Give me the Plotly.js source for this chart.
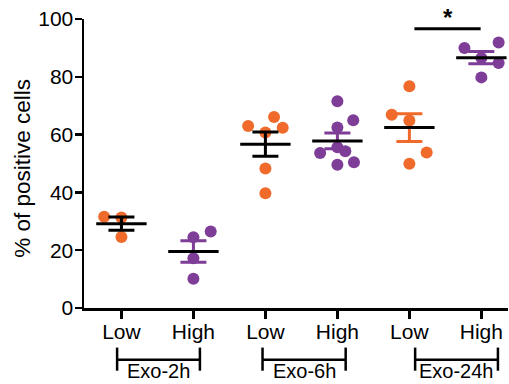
<!DOCTYPE html>
<html>
<head>
<meta charset="utf-8">
<script src="https://cdn.plot.ly/plotly-3.0.1.min.js"></script>
<style>html,body{margin:0;padding:0;background:#fff;}#chart{width:509px;height:384px;}</style>
</head>
<body>
<div id="chart"></div>
<script>
// ---- data ----
const groupNames = ['Exo-2h', 'Exo-6h', 'Exo-24h'];
const tickLabels = ['Low', 'High', 'Low', 'High', 'Low', 'High'];
const yTitle = '% of positive cells';
const low2h  = [31.6, 31.3, 24.6];
const high2h = [24.5, 26.5, 17.2, 10.1];
const low6h  = [63.0, 66.1, 62.4, 60.7, 48.3, 39.7];
const high6h = [71.5, 65.0, 62.5, 53.6, 55.6, 54.2, 49.6, 50.4];
const low24h = [76.7, 66.9, 64.9, 53.8, 49.9];
const high24h = [90.0, 91.9, 86.5, 84.8, 79.8];
const significance = '*';

// ---- presentation (positions / styles) ----
const series = [low2h, high2h, low6h, high6h, low24h, high24h];
const swarm = [
  [-0.24, 0, 0],
  [0, 0.24, 0, 0],
  [-0.24, 0.12, 0.24, 0, 0, 0],
  [0, 0.22, 0, -0.24, 0, 0.11, 0, 0.23],
  [0, -0.245, 0, 0.24, 0],
  [-0.235, 0.24, 0, 0.24, 0]
];
const ORANGE = '#EF6A2B', PURPLE = '#7E3D96';
const dotColors = [ORANGE, PURPLE, ORANGE, PURPLE, ORANGE, PURPLE];
const semColors = ['#000', PURPLE, '#000', PURPLE, ORANGE, PURPLE];
const FONT = '"Liberation Sans", Arial, Helvetica, sans-serif';

function mean(a){ return a.reduce((s,v)=>s+v,0)/a.length; }
function sem(a){ const m=mean(a); const v=a.reduce((s,x)=>s+(x-m)*(x-m),0)/(a.length-1); return Math.sqrt(v)/Math.sqrt(a.length); }

const traces = [];
series.forEach((vals, i) => {
  traces.push({
    type:'scatter', mode:'markers', cliponaxis:false, hoverinfo:'skip',
    x: vals.map((v,k)=>i+swarm[i][k]), y: vals,
    marker:{size:12, color:dotColors[i], line:{width:0}}
  });
});
series.forEach((vals, i) => {
  const m = mean(vals);
  traces.push({
    type:'scatter', mode:'markers', hoverinfo:'skip',
    x:[i], y:[m], marker:{size:1, opacity:0},
    error_y:{type:'data', array:[sem(vals)], visible:true, width:13, thickness:3, color:semColors[i]}
  });
  traces.push({
    type:'scatter', mode:'lines', hoverinfo:'skip',
    x:[i-0.35, i+0.35], y:[m, m], line:{color:'#000', width:3}
  });
});

const bracketSpan = [[-0.06, 1.09], [1.96, 3.115], [4.08, 5.23]];
const shapes = [];
const annotations = [];
bracketSpan.forEach((s, g) => {
  const L = {color:'#000', width:2.5};
  shapes.push({type:'line', xref:'x', yref:'paper', x0:s[0], x1:s[1], y0:-0.179, y1:-0.179, line:L});
  shapes.push({type:'line', xref:'x', yref:'paper', x0:s[0], x1:s[0], y0:-0.137, y1:-0.217, line:L});
  shapes.push({type:'line', xref:'x', yref:'paper', x0:s[1], x1:s[1], y0:-0.137, y1:-0.217, line:L});
  annotations.push({xref:'x', yref:'paper', x:(s[0]+s[1])/2, y:-0.2165, yanchor:'middle', xanchor:'center',
    text:groupNames[g], showarrow:false, font:{family:FONT, size:20, color:'#000'}});
});
// significance bar between 24h Low and High
shapes.push({type:'line', xref:'x', yref:'y', x0:4.07, x1:4.99, y0:96.6, y1:96.6, line:{color:'#000', width:3}});
annotations.push({xref:'x', yref:'paper', x:4.53, y:1.005, yanchor:'middle', text:'<b>' + significance + '</b>', showarrow:false,
  font:{family:FONT, size:24, color:'#000'}});
// y-axis title
annotations.push({xref:'paper', yref:'paper', x:-0.1439, y:0.485, xanchor:'center', yanchor:'middle',
  textangle:-90, text:yTitle, showarrow:false, font:{family:FONT, size:22.5, color:'#000'}});

const layout = {
  width:509, height:384,
  margin:{l:84, r:1, t:19, b:76, pad:0},
  paper_bgcolor:'#fff', plot_bgcolor:'#fff',
  showlegend:false,
  font:{family:FONT, color:'#000'},
  xaxis:{range:[-0.52, 5.37], tickmode:'array', tickvals:[0,1,2,3,4,5], ticktext:tickLabels,
    showline:true, linecolor:'#000', linewidth:2.5, ticks:'outside', ticklen:8, tickwidth:2.5, tickcolor:'#000',
    ticklabelstandoff:-5,
    showgrid:false, zeroline:false, tickfont:{family:FONT, size:21, color:'#000'}},
  yaxis:{range:[0,100], tickmode:'array', tickvals:[0,20,40,60,80,100],
    showline:true, linecolor:'#000', linewidth:2.5, ticks:'outside', ticklen:7, tickwidth:2.5, tickcolor:'#000',
    ticklabelstandoff:-3,
    showgrid:false, zeroline:false, tickfont:{family:FONT, size:21, color:'#000'}},
  shapes:shapes, annotations:annotations
};
Plotly.newPlot('chart', traces, layout, {displayModeBar:false, staticPlot:true});
</script>
</body>
</html>
